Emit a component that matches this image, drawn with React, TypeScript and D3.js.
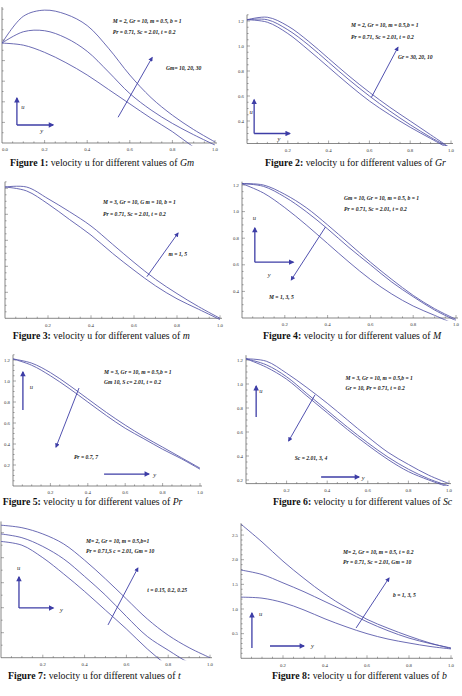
import React, { useRef, useEffect } from 'react';
import * as d3 from 'd3';

// positions along the channel (horizontal axis, "y")
const Y_STEPS = [0, 0.1, 0.2, 0.3, 0.4, 0.5, 0.6, 0.7, 0.8, 0.9, 1.0];

// Fig 1: Gm
const U_GM_10 = [1.17, 1.15, 1.08, 0.98, 0.86, 0.72, 0.58, 0.44, 0.31, 0.16, 0.03];
const U_GM_20 = [1.17, 1.28, 1.29, 1.22, 1.09, 0.89, 0.68, 0.52, 0.39, 0.28, 0.18];
const U_GM_30 = [1.17, 1.43, 1.49, 1.45, 1.34, 1.12, 0.86, 0.64, 0.47, 0.33, 0.21];

// Fig 2: Gr
const U_GR_10 = [1.21, 1.19, 1.1, 0.97, 0.83, 0.69, 0.56, 0.45, 0.35, 0.26, 0.17];
const U_GR_20 = [1.21, 1.21, 1.13, 1.01, 0.87, 0.73, 0.6, 0.48, 0.37, 0.27, 0.18];
const U_GR_30 = [1.21, 1.23, 1.16, 1.04, 0.9, 0.76, 0.63, 0.51, 0.4, 0.29, 0.18];

// Fig 3: m
const U_M_1 = [1.21, 1.18, 1.08, 0.96, 0.84, 0.7, 0.57, 0.45, 0.35, 0.27, 0.19];
const U_M_5 = [1.21, 1.21, 1.12, 1.02, 0.91, 0.77, 0.63, 0.5, 0.39, 0.29, 0.2];

// Fig 4: M
const U_MAG_1 = [1.21, 1.2, 1.13, 1.03, 0.9, 0.76, 0.62, 0.49, 0.37, 0.27, 0.19];
const U_MAG_3 = [1.21, 1.19, 1.11, 1.0, 0.87, 0.73, 0.6, 0.47, 0.36, 0.26, 0.18];
const U_MAG_5 = [1.21, 1.14, 1.03, 0.9, 0.76, 0.62, 0.49, 0.38, 0.29, 0.22, 0.15];

// Fig 5: Pr
const U_PR_07 = [1.21, 1.17, 1.08, 0.96, 0.83, 0.7, 0.58, 0.47, 0.37, 0.27, 0.17];
const U_PR_7 = [1.21, 1.15, 1.05, 0.93, 0.8, 0.67, 0.55, 0.45, 0.35, 0.26, 0.16];

// Fig 6: Sc
const U_SC_201 = [1.21, 1.19, 1.09, 0.97, 0.84, 0.7, 0.56, 0.43, 0.33, 0.24, 0.17];
const U_SC_3 = [1.21, 1.16, 1.06, 0.92, 0.78, 0.64, 0.51, 0.39, 0.29, 0.21, 0.15];
const U_SC_4 = [1.21, 1.14, 1.04, 0.9, 0.76, 0.62, 0.49, 0.37, 0.27, 0.2, 0.14];

// Fig 7: t
const U_T_015 = [0.93, 0.9, 0.8, 0.67, 0.53, 0.38, 0.23, 0.07, -0.07, -0.2, -0.3];
const U_T_02 = [0.99, 0.96, 0.89, 0.79, 0.65, 0.5, 0.33, 0.17, 0.06, -0.04, -0.1];
const U_T_025 = [1.06, 1.04, 0.99, 0.91, 0.78, 0.63, 0.47, 0.31, 0.18, 0.08, 0.0];

// Fig 8: b
const U_B_1 = [1.24, 1.22, 1.13, 0.98, 0.8, 0.64, 0.5, 0.39, 0.31, 0.24, 0.19];
const U_B_3 = [1.79, 1.7, 1.53, 1.35, 1.15, 0.95, 0.74, 0.56, 0.41, 0.3, 0.21];
const U_B_5 = [2.72, 2.36, 1.97, 1.62, 1.3, 1.03, 0.79, 0.61, 0.45, 0.31, 0.2];

// tick labels
const X_TICKS = [0.2, 0.4, 0.6, 0.8, 1.0];
const X_TICKS_ZERO = [0, 0.2, 0.4, 0.6, 0.8, 1.0];
const Y_TICKS_HIGH = [0.4, 0.6, 0.8, 1.0, 1.2];
const Y_TICKS_FULL = [0.2, 0.4, 0.6, 0.8, 1.0, 1.2];
const Y_TICKS_B = [0.5, 1.0, 1.5, 2.0, 2.5];

// text
const CAPTION_PARAMS = ['Gm', 'Gr', 'm', 'M', 'Pr', 'Sc', 't', 'b'];
const PARAM_LINES = [
  ['M = 2, Gr = 10, m = 0.5, b = 1', 'Pr = 0.71, Sc = 2.01, t = 0.2'],
  ['M = 2, Gr = 10, m = 0.5,b = 1', 'Pr = 0.71, Sc = 2.01, t = 0.2'],
  ['M = 3, Gr = 10, G m = 10, b = 1', 'Pr = 0.71, Sc = 2.01, t = 0.2'],
  ['Gm = 10, Gr = 10, m = 0.5, b = 1', 'Pr = 0.71, Sc = 2.01, t = 0.2'],
  ['M = 3, Gr = 10, m = 0.5,b = 1', 'Gm 10, S c= 2.01, t = 0.2'],
  ['M = 3, Gr = 10, m = 0.5,b = 1', 'Gr = 10, Pr = 0.71, t = 0.2'],
  ['M= 2, Gr = 10, m = 0.5,b=1', 'Pr = 0.71,S c = 2.01, Gm = 10'],
  ['M= 2, Gr = 10, m = 0.5, t = 0.2', 'Pr = 0.71, Sc = 2.01, Gm = 10'],
];
const ARROW_LABELS = [
  'Gm= 10, 20, 30',
  'Gr = 30, 20, 10',
  'm = 1, 5',
  'M = 1, 3, 5',
  'Pr = 0.7, 7',
  'Sc = 2.01, 3, 4',
  't = 0.15, 0.2, 0.25',
  'b = 1, 3, 5',
];

const SERIF = '"Liberation Serif", "Times New Roman", serif';
const CURVE = '#5252a6';
const ARROW = '#3d3da6';
const AXIS = '#555';

interface Glyph {
  x0: number;
  x1: number;
  u0: number;
  u1: number;
  lx: number;
  lu: number;
}

interface Panel {
  curves: number[][];
  xPx: [number, number];
  axisY: number;
  uAxis: number;
  ppu: number;
  uTop: number;
  xTicks: number[];
  yTicks: number[];
  yLabels: boolean;
  yMinor: number;
  notes: [number, number, number];
  labelAt: [number, number];
  arrow: [number, number, number, number];
  uGlyph?: Glyph;
  yGlyph?: Glyph;
  caption: [number, number];
}

const PANELS: Panel[] = [
  {
    curves: [U_GM_10, U_GM_20, U_GM_30], xPx: [2, 215], axisY: 143, uAxis: 0.2, ppu: 103, uTop: 1.52,
    xTicks: X_TICKS_ZERO, yTicks: Y_TICKS_FULL, yLabels: false, yMinor: 0.1,
    notes: [0.52, 1.38, 1.27], labelAt: [0.77, 0.92], arrow: [0.545, 0.45, 0.705, 1.03],
    uGlyph: { x0: 0.07, x1: 0.07, u0: 0.375, u1: 0.637, lx: 0.09, lu: 0.54 },
    yGlyph: { x0: 0.07, x1: 0.24, u0: 0.375, u1: 0.375, lx: 0.18, lu: 0.31 },
    caption: [10, 166],
  },
  {
    curves: [U_GR_10, U_GR_20, U_GR_30], xPx: [247, 451], axisY: 143.5, uAxis: 0.22, ppu: 125, uTop: 1.25,
    xTicks: X_TICKS, yTicks: Y_TICKS_HIGH, yLabels: true, yMinor: 0.05,
    notes: [0.51, 1.16, 1.07], labelAt: [0.74, 0.91], arrow: [0.61, 0.59, 0.74, 0.99],
    uGlyph: { x0: 0.035, x1: 0.035, u0: 0.3, u1: 0.57, lx: 0.012, lu: 0.47 },
    yGlyph: { x0: 0.035, x1: 0.21, u0: 0.3, u1: 0.3, lx: 0.15, lu: 0.25 },
    caption: [265, 166],
  },
  {
    curves: [U_M_1, U_M_5], xPx: [5, 220], axisY: 318.3, uAxis: 0.2, ppu: 130, uTop: 1.25,
    xTicks: X_TICKS, yTicks: Y_TICKS_HIGH, yLabels: false, yMinor: 0.05,
    notes: [0.456, 1.087, 1.0], labelAt: [0.76, 0.69], arrow: [0.66, 0.52, 0.805, 0.856],
    caption: [12.7, 339],
  },
  {
    curves: [U_MAG_1, U_MAG_3, U_MAG_5], xPx: [242, 456], axisY: 318, uAxis: 0.2, ppu: 133, uTop: 1.225,
    xTicks: X_TICKS, yTicks: Y_TICKS_HIGH, yLabels: true, yMinor: 0.05,
    notes: [0.477, 1.095, 1.012], labelAt: [0.126, 0.35], arrow: [0.39, 0.884, 0.23, 0.486],
    uGlyph: { x0: 0.06, x1: 0.06, u0: 0.62, u1: 0.877, lx: 0.05, lu: 0.945 },
    yGlyph: { x0: 0.06, x1: 0.24, u0: 0.62, u1: 0.62, lx: 0.12, lu: 0.52 },
    caption: [263, 339],
  },
  {
    curves: [U_PR_07, U_PR_7], xPx: [13, 200], axisY: 486, uAxis: 0, ppu: 105, uTop: 1.25,
    xTicks: X_TICKS, yTicks: Y_TICKS_FULL, yLabels: true, yMinor: 0.05,
    notes: [0.487, 1.076, 0.98], labelAt: [0.326, 0.267], arrow: [0.353, 0.933, 0.23, 0.371],
    uGlyph: { x0: 0.053, x1: 0.053, u0: 0.724, u1: 1.086, lx: 0.09, lu: 0.94 },
    yGlyph: { x0: 0.487, x1: 0.727, u0: 0.114, u1: 0.114, lx: 0.75, lu: 0.1 },
    caption: [2.7, 504.5],
  },
  {
    curves: [U_SC_201, U_SC_3, U_SC_4], xPx: [246, 449], axisY: 483.6, uAxis: 0.17, ppu: 120, uTop: 1.24,
    xTicks: X_TICKS, yTicks: Y_TICKS_FULL, yLabels: true, yMinor: 0.05,
    notes: [0.49, 1.04, 0.96], labelAt: [0.24, 0.38], arrow: [0.34, 0.91, 0.21, 0.525],
    uGlyph: { x0: 0.05, x1: 0.05, u0: 0.725, u1: 0.983, lx: 0.065, lu: 0.94 },
    yGlyph: { x0: 0.37, x1: 0.557, u0: 0.225, u1: 0.225, lx: 0.57, lu: 0.215 },
    caption: [273, 504.5],
  },
  {
    curves: [U_T_015, U_T_02, U_T_025], xPx: [1, 210], axisY: 657.7, uAxis: 0, ppu: 125, uTop: 1.09,
    xTicks: X_TICKS, yTicks: Y_TICKS_FULL, yLabels: false, yMinor: 0.1,
    notes: [0.407, 0.926, 0.846], labelAt: [0.7, 0.534], arrow: [0.512, 0.262, 0.655, 0.718],
    uGlyph: { x0: 0.086, x1: 0.086, u0: 0.398, u1: 0.646, lx: 0.077, lu: 0.71 },
    yGlyph: { x0: 0.086, x1: 0.25, u0: 0.398, u1: 0.398, lx: 0.282, lu: 0.374 },
    caption: [8, 678.5],
  },
  {
    curves: [U_B_1, U_B_3, U_B_5], xPx: [241, 451], axisY: 658.3, uAxis: 0, ppu: 49.3, uTop: 2.74,
    xTicks: X_TICKS, yTicks: Y_TICKS_B, yLabels: true, yMinor: 0.1,
    notes: [0.486, 2.136, 1.933], labelAt: [0.724, 1.264], arrow: [0.548, 0.615, 0.705, 1.63],
    uGlyph: { x0: 0.052, x1: 0.052, u0: 0.209, u1: 0.919, lx: 0.086, lu: 0.878 },
    yGlyph: { x0: 0.138, x1: 0.3, u0: 0.25, u1: 0.25, lx: 0.333, lu: 0.23 },
    caption: [272, 678.5],
  },
];

type Sel = d3.Selection<SVGSVGElement, unknown, null, undefined>;

function drawPanel(svg: Sel, p: Panel, idx: number) {
  const x = d3.scaleLinear().domain([0, 1]).range(p.xPx);
  const y = d3.scaleLinear().domain([p.uAxis, p.uAxis + 1]).range([p.axisY, p.axisY - p.ppu]);
  const [x0, x1] = p.xPx;
  const top = y(p.uTop);
  const g = svg.append('g');

  // clip region for the curves
  const clipId = `clip-${idx}`;
  svg.select('defs').append('clipPath').attr('id', clipId)
    .append('rect')
    .attr('x', x0).attr('y', top)
    .attr('width', x1 - x0 + 2).attr('height', p.axisY - top + 2.5);

  // axes
  g.append('line').attr('x1', x0).attr('x2', x1 + 2).attr('y1', p.axisY).attr('y2', p.axisY)
    .attr('stroke', AXIS).attr('stroke-width', 0.7);
  g.append('line').attr('x1', x0).attr('x2', x0).attr('y1', p.axisY).attr('y2', top)
    .attr('stroke', AXIS).attr('stroke-width', 0.7);

  // x ticks (major every 0.2, minor every 0.05)
  const xMinor = d3.range(0, 21).map(i => i * 0.05).filter(v => v > 0.001);
  g.append('g').selectAll('line').data(xMinor).join('line')
    .attr('x1', d => x(d)).attr('x2', d => x(d))
    .attr('y1', p.axisY)
    .attr('y2', d => p.axisY - (Math.abs(d * 5 - Math.round(d * 5)) < 0.01 ? 3 : 1.6))
    .attr('stroke', AXIS).attr('stroke-width', 0.5);
  g.append('g').selectAll('text').data(p.xTicks).join('text')
    .attr('x', d => x(d)).attr('y', p.axisY + 8.3)
    .attr('text-anchor', d => (d === 0 ? 'start' : 'middle'))
    .attr('font-family', SERIF).attr('font-size', 4.8).attr('fill', '#333')
    .text(d => d3.format('.1f')(d));

  // y ticks
  const start = Math.ceil((p.uAxis + 0.001) / p.yMinor);
  const yMinor = d3.range(start, Math.floor(p.uTop / p.yMinor) + 1).map(i => i * p.yMinor);
  g.append('g').selectAll('line').data(yMinor).join('line')
    .attr('x1', x0)
    .attr('x2', d => x0 + (p.yTicks.some(t => Math.abs(t - d) < 0.001) ? 3 : 1.6))
    .attr('y1', d => y(d)).attr('y2', d => y(d))
    .attr('stroke', AXIS).attr('stroke-width', 0.5);
  if (p.yLabels) {
    g.append('g').selectAll('text').data(p.yTicks).join('text')
      .attr('x', x0 - 3).attr('y', d => y(d) + 1.6)
      .attr('text-anchor', 'end')
      .attr('font-family', SERIF).attr('font-size', 4.8).attr('fill', '#333')
      .text(d => d3.format('.1f')(d));
  }

  // velocity profiles
  const line = d3.line<number>()
    .x((_, i) => x(Y_STEPS[i]))
    .y(d => y(d))
    .curve(d3.curveCatmullRom.alpha(0.5));
  g.append('g').attr('clip-path', `url(#${clipId})`)
    .selectAll('path').data(p.curves).join('path')
    .attr('d', d => line(d))
    .attr('fill', 'none')
    .attr('stroke', CURVE)
    .attr('stroke-width', 0.85);

  // parameter text
  const [nx, nu1, nu2] = p.notes;
  g.append('g').selectAll('text').data(PARAM_LINES[idx]).join('text')
    .attr('x', x(nx))
    .attr('y', (_, i) => y(i === 0 ? nu1 : nu2))
    .attr('dominant-baseline', 'middle')
    .attr('font-family', SERIF).attr('font-style', 'italic').attr('font-weight', 'bold')
    .attr('font-size', 5.6).attr('fill', '#222')
    .text(d => d);

  g.append('text')
    .attr('x', x(p.labelAt[0])).attr('y', y(p.labelAt[1]))
    .attr('dominant-baseline', 'middle')
    .attr('font-family', SERIF).attr('font-style', 'italic').attr('font-weight', 'bold')
    .attr('font-size', 5.6).attr('fill', '#222')
    .text(ARROW_LABELS[idx]);

  // trend arrow
  const [ax0, au0, ax1, au1] = p.arrow;
  g.append('line')
    .attr('x1', x(ax0)).attr('y1', y(au0)).attr('x2', x(ax1)).attr('y2', y(au1))
    .attr('stroke', ARROW).attr('stroke-width', 0.9)
    .attr('marker-end', 'url(#head-sm)');

  // u / y direction glyphs
  [p.uGlyph, p.yGlyph].forEach((gl, k) => {
    if (!gl) return;
    g.append('line')
      .attr('x1', x(gl.x0)).attr('y1', y(gl.u0)).attr('x2', x(gl.x1)).attr('y2', y(gl.u1))
      .attr('stroke', ARROW).attr('stroke-width', 1.3)
      .attr('marker-end', 'url(#head-lg)');
    g.append('text')
      .attr('x', x(gl.lx)).attr('y', y(gl.lu))
      .attr('dominant-baseline', 'middle')
      .attr('font-family', SERIF).attr('font-style', 'italic')
      .attr('font-size', 6.5).attr('fill', '#222')
      .text(k === 0 ? 'u' : 'y');
  });

  // caption
  const cap = g.append('text')
    .attr('x', p.caption[0]).attr('y', p.caption[1])
    .attr('font-family', SERIF).attr('font-size', 9.8).attr('fill', '#111');
  cap.append('tspan').attr('font-weight', 'bold').text(`Figure ${idx + 1}:`);
  cap.append('tspan').text(' velocity u for different values of ');
  cap.append('tspan').attr('font-style', 'italic').text(CAPTION_PARAMS[idx]);
}

export default function App() {
  const svgRef = useRef<SVGSVGElement>(null);

  useEffect(() => {
    if (!svgRef.current) return;
    const svg = d3.select(svgRef.current);
    svg.selectAll('*').remove();

    const defs = svg.append('defs');
    const marker = (id: string, w: number, h: number) =>
      defs.append('marker')
        .attr('id', id)
        .attr('viewBox', '0 0 10 10')
        .attr('refX', 8).attr('refY', 5)
        .attr('markerUnits', 'userSpaceOnUse')
        .attr('markerWidth', w).attr('markerHeight', h)
        .attr('orient', 'auto')
        .append('path').attr('d', 'M0,0 L10,5 L0,10 Z').attr('fill', ARROW);
    marker('head-sm', 5, 4.5);
    marker('head-lg', 6, 5.5);

    PANELS.forEach((p, i) => drawPanel(svg, p, i));
  }, []);

  return (
    <svg
      ref={svgRef}
      width={462}
      height={696}
      style={{ position: 'absolute', left: 0, top: 0, background: '#fff' }}
    />
  );
}
